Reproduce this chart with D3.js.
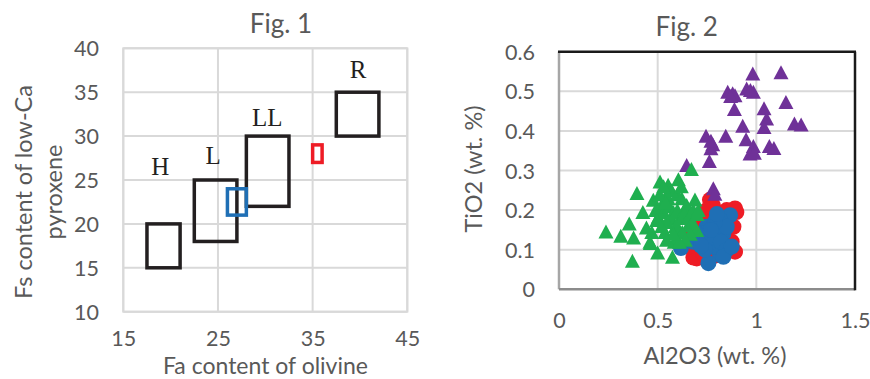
<!DOCTYPE html>
<html>
<head>
<meta charset="utf-8">
<script src="https://cdn.jsdelivr.net/npm/d3@7"></script>
<style>
  html, body { margin: 0; padding: 0; background: #fff; }
  svg { display: block; }
  text { font-family: "Lato", "Open Sans", sans-serif; fill: #595959; }
  .serif { font-family: "Liberation Serif", "DejaVu Serif", serif; fill: #231f20; }
</style>
</head>
<body>
<svg id="chart" width="870" height="379"></svg>
<script>
// ---------- Fig. 1: olivine Fa vs low-Ca pyroxene Fs fields ----------
const fig1XTicks = [15, 25, 35, 45];
const fig1YTicks = [10, 15, 20, 25, 30, 35, 40];
const groupNames = ["H", "L", "LL", "R"];
const groupFa = [[17.5, 21], [22.5, 27], [28, 32.5], [37.5, 42]];
const groupFs = [[15, 20], [18, 25], [22, 30], [30, 35]];
const groupLabelFa = [18.9, 24.5, 30.2, 39.8];
const groupLabelFs = [25.6, 26.8, 31.1, 36.6];
const sampleFa = [[26, 28], [35, 36]];
const sampleFs = [[21, 24], [27, 29]];
const sampleColors = ["#1f6fb5", "#ee1c25"];

// ---------- Fig. 2: Al2O3 vs TiO2 ----------
const fig2XTicks = [0, 0.5, 1, 1.5];
const fig2YTicks = [0, 0.1, 0.2, 0.3, 0.4, 0.5, 0.6];

const redAl = [0.765, 0.78, 0.892, 0.85, 0.749, 0.884, 0.892, 0.698, 0.681, 0.664, 0.672, 0.70, 0.74, 0.80, 0.82, 0.76, 0.84, 0.875, 0.73, 0.79, 0.72, 0.899, 0.655];
const redTi = [0.226, 0.212, 0.204, 0.200, 0.200, 0.158, 0.095, 0.078, 0.080, 0.124, 0.141, 0.180, 0.170, 0.130, 0.100, 0.110, 0.180, 0.120, 0.090, 0.085, 0.150, 0.195, 0.108];

const blueAl = [0.867, 0.816, 0.749, 0.833, 0.867, 0.816, 0.757, 0.618, 0.715, 0.782, 0.731, 0.799, 0.850, 0.790, 0.760, 0.700, 0.820, 0.740, 0.680, 0.850, 0.800, 0.770, 0.720, 0.833, 0.875];
const blueTi = [0.187, 0.175, 0.158, 0.141, 0.107, 0.087, 0.066, 0.104, 0.124, 0.107, 0.141, 0.150, 0.158, 0.170, 0.130, 0.140, 0.120, 0.100, 0.120, 0.100, 0.190, 0.150, 0.110, 0.082, 0.108];

const purpleAl = [0.982, 1.125, 0.855, 0.892, 0.951, 0.985, 0.970, 1.150, 0.889, 1.039, 1.052, 1.039, 0.931, 1.193, 1.227, 0.745, 0.845, 0.779, 0.770, 0.948, 0.985, 0.968, 0.990, 1.066, 1.089, 0.762, 0.647, 0.782, 0.790, 0.880, 0.770, 0.870];
const purpleTi = [0.545, 0.548, 0.499, 0.490, 0.507, 0.499, 0.503, 0.473, 0.455, 0.457, 0.431, 0.410, 0.413, 0.419, 0.416, 0.388, 0.388, 0.366, 0.356, 0.379, 0.362, 0.343, 0.345, 0.362, 0.357, 0.324, 0.314, 0.255, 0.241, 0.495, 0.375, 0.488];

const greenAl = [0.238, 0.313, 0.356, 0.378, 0.372, 0.395, 0.425, 0.443, 0.463, 0.500, 0.575, 0.584, 0.512, 0.553, 0.558, 0.605, 0.671, 0.478, 0.503, 0.520, 0.537, 0.470, 0.554, 0.571, 0.605, 0.622, 0.639, 0.655, 0.689, 0.647, 0.698, 0.461, 0.490, 0.510, 0.530, 0.545, 0.560, 0.580, 0.590, 0.600, 0.615, 0.625, 0.635, 0.660, 0.675, 0.680, 0.700, 0.706, 0.665, 0.640, 0.610, 0.580, 0.520, 0.495, 0.545, 0.600, 0.570, 0.530, 0.620, 0.540];
const greenTi = [0.146, 0.135, 0.166, 0.131, 0.072, 0.243, 0.195, 0.156, 0.117, 0.093, 0.082, 0.120, 0.272, 0.264, 0.250, 0.278, 0.304, 0.226, 0.183, 0.213, 0.145, 0.145, 0.230, 0.179, 0.154, 0.230, 0.204, 0.162, 0.227, 0.213, 0.150, 0.120, 0.200, 0.240, 0.195, 0.170, 0.210, 0.195, 0.160, 0.200, 0.180, 0.145, 0.190, 0.185, 0.170, 0.200, 0.190, 0.200, 0.140, 0.125, 0.120, 0.140, 0.160, 0.175, 0.125, 0.240, 0.250, 0.260, 0.260, 0.220];

const svg = d3.select("#chart");
const gridColor = "#d9d9d9";

// ================= Fig. 1 =================
const f1 = { left: 123.3, right: 407.3, top: 48.3, bottom: 311.7 };
const x1 = d3.scaleLinear().domain([15, 45]).range([f1.left, f1.right]);
const y1 = d3.scaleLinear().domain([10, 40]).range([f1.bottom, f1.top]);
const g1 = svg.append("g");

g1.append("g").selectAll("line").data(fig1XTicks).join("line")
  .attr("x1", d => x1(d)).attr("x2", d => x1(d))
  .attr("y1", f1.top).attr("y2", f1.bottom)
  .attr("stroke", gridColor).attr("stroke-width", 2);
g1.append("g").selectAll("line").data(fig1YTicks).join("line")
  .attr("y1", d => y1(d)).attr("y2", d => y1(d))
  .attr("x1", f1.left).attr("x2", f1.right)
  .attr("stroke", gridColor).attr("stroke-width", 2);

const ax1 = g1.append("g").attr("transform", `translate(0,${f1.bottom})`)
  .call(d3.axisBottom(x1).tickValues(fig1XTicks).tickSize(0).tickFormat(d3.format("d")));
ax1.select(".domain").remove();
ax1.selectAll("text").attr("y", 34.5).attr("dy", 0).attr("font-size", 21.5).attr("fill", "#595959").style("font-family", null);

const ay1 = g1.append("g").attr("transform", `translate(${f1.left},0)`)
  .call(d3.axisLeft(y1).tickValues(fig1YTicks).tickSize(0).tickFormat(d3.format("d")));
ay1.select(".domain").remove();
ay1.selectAll("text").attr("x", -24.3).attr("dy", "0.35em").attr("font-size", 21.5).attr("fill", "#595959").style("font-family", null);

// chondrite group fields
g1.append("g").selectAll("rect").data(groupNames).join("rect")
  .attr("x", (d, i) => x1(groupFa[i][0]))
  .attr("y", (d, i) => y1(groupFs[i][1]))
  .attr("width", (d, i) => x1(groupFa[i][1]) - x1(groupFa[i][0]))
  .attr("height", (d, i) => y1(groupFs[i][0]) - y1(groupFs[i][1]))
  .attr("fill", "none").attr("stroke", "#231f20").attr("stroke-width", 3.5);

g1.append("g").selectAll("rect").data(sampleFa).join("rect")
  .attr("x", (d, i) => x1(sampleFa[i][0]))
  .attr("y", (d, i) => y1(sampleFs[i][1]))
  .attr("width", (d, i) => x1(sampleFa[i][1]) - x1(sampleFa[i][0]))
  .attr("height", (d, i) => y1(sampleFs[i][0]) - y1(sampleFs[i][1]))
  .attr("fill", "none").attr("stroke", (d, i) => sampleColors[i]).attr("stroke-width", 3.5);

g1.append("g").selectAll("text").data(groupNames).join("text")
  .attr("class", "serif")
  .attr("x", (d, i) => x1(groupLabelFa[i]))
  .attr("y", (d, i) => y1(groupLabelFs[i]))
  .attr("text-anchor", "middle").attr("font-size", 25)
  .text(d => d);

g1.append("text").attr("x", 281).attr("y", 33.3).attr("text-anchor", "middle")
  .attr("font-size", 26).text("Fig. 1");
g1.append("text").attr("x", 265.5).attr("y", 374).attr("text-anchor", "middle")
  .attr("font-size", 23).text("Fa content of olivine");
const yt1 = g1.append("text").attr("transform", "translate(0,192) rotate(-90)")
  .attr("text-anchor", "middle").attr("font-size", 23.5);
yt1.append("tspan").attr("x", 0).attr("y", 31.5).text("Fs content of low-Ca");
yt1.append("tspan").attr("x", 0).attr("y", 62).text("pyroxene");

// frame of Fig. 1 (light grey all round)
g1.append("rect").attr("x", f1.left).attr("y", f1.top)
  .attr("width", f1.right - f1.left).attr("height", f1.bottom - f1.top)
  .attr("fill", "none").attr("stroke", gridColor).attr("stroke-width", 2)
  .lower();

// ================= Fig. 2 =================
const f2 = { left: 559, right: 855, top: 51.7, bottom: 289.3 };
const x2 = d3.scaleLinear().domain([0, 1.5]).range([f2.left, f2.right]);
const y2 = d3.scaleLinear().domain([0, 0.6]).range([f2.bottom, f2.top]);
const g2 = svg.append("g");

g2.append("g").selectAll("line").data(fig2XTicks.slice(1, -1)).join("line")
  .attr("x1", d => x2(d)).attr("x2", d => x2(d))
  .attr("y1", f2.top).attr("y2", f2.bottom)
  .attr("stroke", gridColor).attr("stroke-width", 2);
g2.append("g").selectAll("line").data(fig2YTicks.slice(1, -1)).join("line")
  .attr("y1", d => y2(d)).attr("y2", d => y2(d))
  .attr("x1", f2.left).attr("x2", f2.right)
  .attr("stroke", gridColor).attr("stroke-width", 2);

const ax2 = g2.append("g").attr("transform", `translate(0,${f2.bottom})`)
  .call(d3.axisBottom(x2).tickValues(fig2XTicks).tickSize(0).tickFormat(d => String(d)));
ax2.select(".domain").remove();
ax2.selectAll("text").attr("y", 38.7).attr("dy", 0).attr("font-size", 21.5).attr("fill", "#595959").style("font-family", null);

const ay2 = g2.append("g").attr("transform", `translate(${f2.left},0)`)
  .call(d3.axisLeft(y2).tickValues(fig2YTicks).tickSize(0).tickFormat(d => String(d)));
ay2.select(".domain").remove();
ay2.selectAll("text").attr("x", -24).attr("dy", "0.35em").attr("font-size", 21.5).attr("fill", "#595959").style("font-family", null);

// triangle marker centred on its bounding box
const tri = (cx, cy) => {
  const w = 15, h = 14;
  return `M${cx},${cy - h / 2}L${cx + w / 2},${cy + h / 2}L${cx - w / 2},${cy + h / 2}Z`;
};

const marks = g2.append("g");
marks.selectAll("circle.red").data(redAl).join("circle").attr("class", "red")
  .attr("cx", (d, i) => x2(redAl[i])).attr("cy", (d, i) => y2(redTi[i]))
  .attr("r", 8).attr("fill", "#ee1c25");
marks.selectAll("circle.blue").data(blueAl).join("circle").attr("class", "blue")
  .attr("cx", (d, i) => x2(blueAl[i])).attr("cy", (d, i) => y2(blueTi[i]))
  .attr("r", 8).attr("fill", "#1f6fb5");
marks.selectAll("path.purple").data(purpleAl).join("path").attr("class", "purple")
  .attr("d", (d, i) => tri(x2(purpleAl[i]), y2(purpleTi[i])))
  .attr("fill", "#6f3198");
marks.selectAll("path.green").data(greenAl).join("path").attr("class", "green")
  .attr("d", (d, i) => tri(x2(greenAl[i]), y2(greenTi[i])))
  .attr("fill", "#1faf4f");

// plot frame: light on left/bottom, dark on top/right
g2.append("line").attr("x1", f2.left).attr("x2", f2.left).attr("y1", f2.top).attr("y2", f2.bottom)
  .attr("stroke", "#a6a6a6").attr("stroke-width", 2.5);
g2.append("line").attr("x1", f2.left).attr("x2", f2.right).attr("y1", f2.bottom).attr("y2", f2.bottom)
  .attr("stroke", "#8c8c8c").attr("stroke-width", 2.5);
g2.append("line").attr("x1", f2.left - 1).attr("x2", f2.right + 1).attr("y1", f2.top).attr("y2", f2.top)
  .attr("stroke", "#1a1a1a").attr("stroke-width", 2.5);
g2.append("line").attr("x1", f2.right).attr("x2", f2.right).attr("y1", f2.top).attr("y2", f2.bottom + 1)
  .attr("stroke", "#1a1a1a").attr("stroke-width", 2.5);

g2.append("text").attr("x", 686.7).attr("y", 36).attr("text-anchor", "middle")
  .attr("font-size", 26).text("Fig. 2");
g2.append("text").attr("x", 715).attr("y", 363.5).attr("text-anchor", "middle")
  .attr("font-size", 23.5).text("Al2O3 (wt. %)");
g2.append("text").attr("transform", "translate(481.7,169) rotate(-90)")
  .attr("text-anchor", "middle").attr("font-size", 23.5).text("TiO2 (wt. %)");
</script>
</body>
</html>
